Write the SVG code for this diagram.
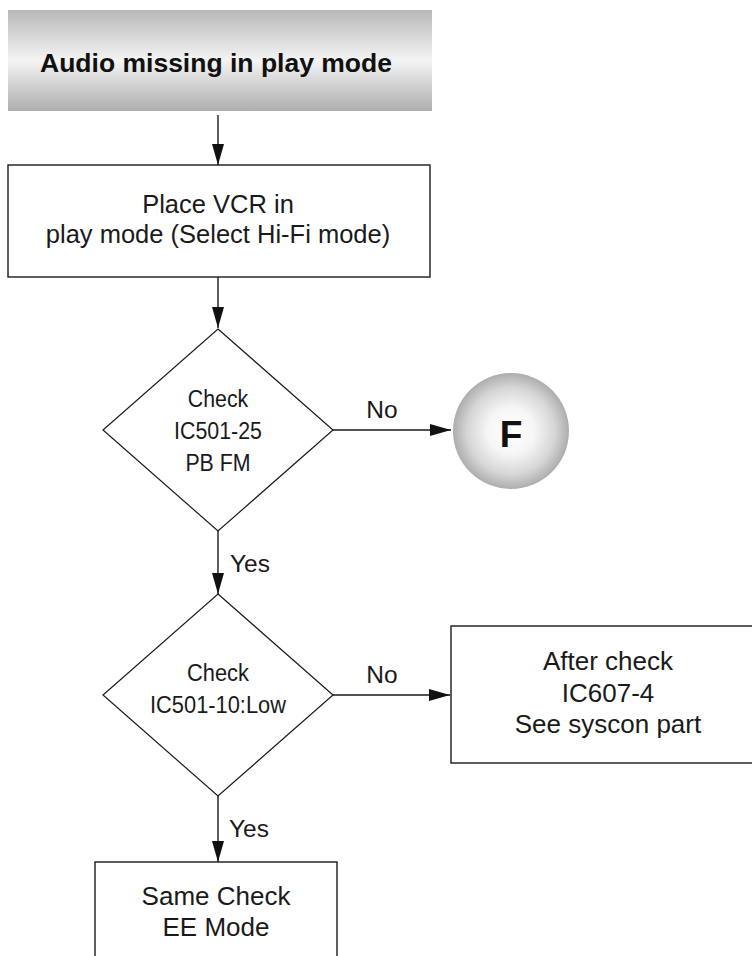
<svg xmlns="http://www.w3.org/2000/svg" width="752" height="956" viewBox="0 0 752 956">
  <style>
    .box { fill: #ffffff; stroke: #1a1a1a; stroke-width: 1.4; }
    .dia { fill: #ffffff; stroke: #1a1a1a; stroke-width: 1.2; }
    .t { font-family: "Liberation Sans", Arial, sans-serif; font-size: 25.5px; fill: #1a1a1a; text-anchor: middle; }
    .tc { font-family: "Liberation Sans", Arial, sans-serif; font-size: 24px; fill: #1a1a1a; text-anchor: middle; }
    .lbl { font-family: "Liberation Sans", Arial, sans-serif; font-size: 24.5px; fill: #1a1a1a; }
    .conn { stroke: #1a1a1a; stroke-width: 1.4; fill: none; marker-end: url(#ah); }
  </style>
  <defs>
    <linearGradient id="hdr" x1="0" y1="0" x2="0" y2="1">
      <stop offset="0" stop-color="#b8b8b8"/>
      <stop offset="0.5" stop-color="#f4f4f4"/>
      <stop offset="1" stop-color="#aeaeae"/>
    </linearGradient>
    <radialGradient id="ball" cx="0.5" cy="0.5" r="0.5">
      <stop offset="0" stop-color="#ffffff"/>
      <stop offset="0.4" stop-color="#f6f6f6"/>
      <stop offset="0.75" stop-color="#d6d6d6"/>
      <stop offset="1" stop-color="#adadad"/>
    </radialGradient>
    <marker id="ah" markerUnits="userSpaceOnUse" markerWidth="22" markerHeight="12" refX="21" refY="6" orient="auto">
      <path d="M0,0 L21,6 L0,12 Z" fill="#111111"/>
    </marker>
  </defs>

  <g id="header">
    <rect x="8" y="10" width="424" height="101" fill="url(#hdr)"/>
    <text x="216" y="72" style="font-family:'Liberation Sans',Arial,sans-serif;font-size:26.5px;font-weight:bold;fill:#111;text-anchor:middle">Audio missing in play mode</text>
  </g>

  <g id="place-vcr">
    <rect class="box" x="8" y="165" width="422" height="112"/>
    <text class="t" x="218" y="213">Place VCR in</text>
    <text class="t" x="218" y="243">play mode (Select Hi-Fi mode)</text>
  </g>

  <g id="check-pbfm">
    <polygon class="dia" points="218,329 333,430 218,531 103,430"/>
    <g transform="translate(218,0) scale(0.89,1)">
      <text class="tc" x="0" y="407">Check</text>
      <text class="tc" x="0" y="439">IC501-25</text>
      <text class="tc" x="0" y="471">PB FM</text>
    </g>
  </g>

  <g id="node-f">
    <circle cx="511" cy="431" r="58" fill="url(#ball)"/>
    <text x="511" y="447" style="font-family:'Liberation Sans',Arial,sans-serif;font-size:37px;font-weight:bold;fill:#111;text-anchor:middle">F</text>
  </g>

  <g id="check-low">
    <polygon class="dia" points="218,594 333,695 218,796 103,695"/>
    <g transform="translate(218,0) scale(0.91,1)">
      <text class="tc" x="0" y="681">Check</text>
      <text class="tc" x="0" y="713">IC501-10:Low</text>
    </g>
  </g>

  <g id="after-check">
    <rect class="box" x="451" y="626" width="330" height="137"/>
    <text class="t" x="608" y="670" style="font-size:26px">After check</text>
    <text class="t" x="608" y="702" style="font-size:26px">IC607-4</text>
    <text class="t" x="608" y="733" style="font-size:26px">See syscon part</text>
  </g>

  <g id="same-check">
    <rect class="box" x="95" y="862" width="242" height="120"/>
    <text class="t" x="216" y="905" style="font-size:26px">Same Check</text>
    <text class="t" x="216" y="936" style="font-size:26px">EE Mode</text>
  </g>

  <g id="connectors">
    <line class="conn" x1="218" y1="115" x2="218" y2="165"/>
    <line class="conn" x1="218" y1="277" x2="218" y2="328"/>
    <line class="conn" x1="333" y1="430" x2="451" y2="430"/>
    <line class="conn" x1="218" y1="531" x2="218" y2="594"/>
    <line class="conn" x1="333" y1="695" x2="450" y2="695"/>
    <line class="conn" x1="218" y1="796" x2="218" y2="862"/>
    <text class="lbl" x="382" y="418" text-anchor="middle">No</text>
    <text class="lbl" x="230" y="572">Yes</text>
    <text class="lbl" x="382" y="683" text-anchor="middle">No</text>
    <text class="lbl" x="229" y="837">Yes</text>
  </g>
</svg>
